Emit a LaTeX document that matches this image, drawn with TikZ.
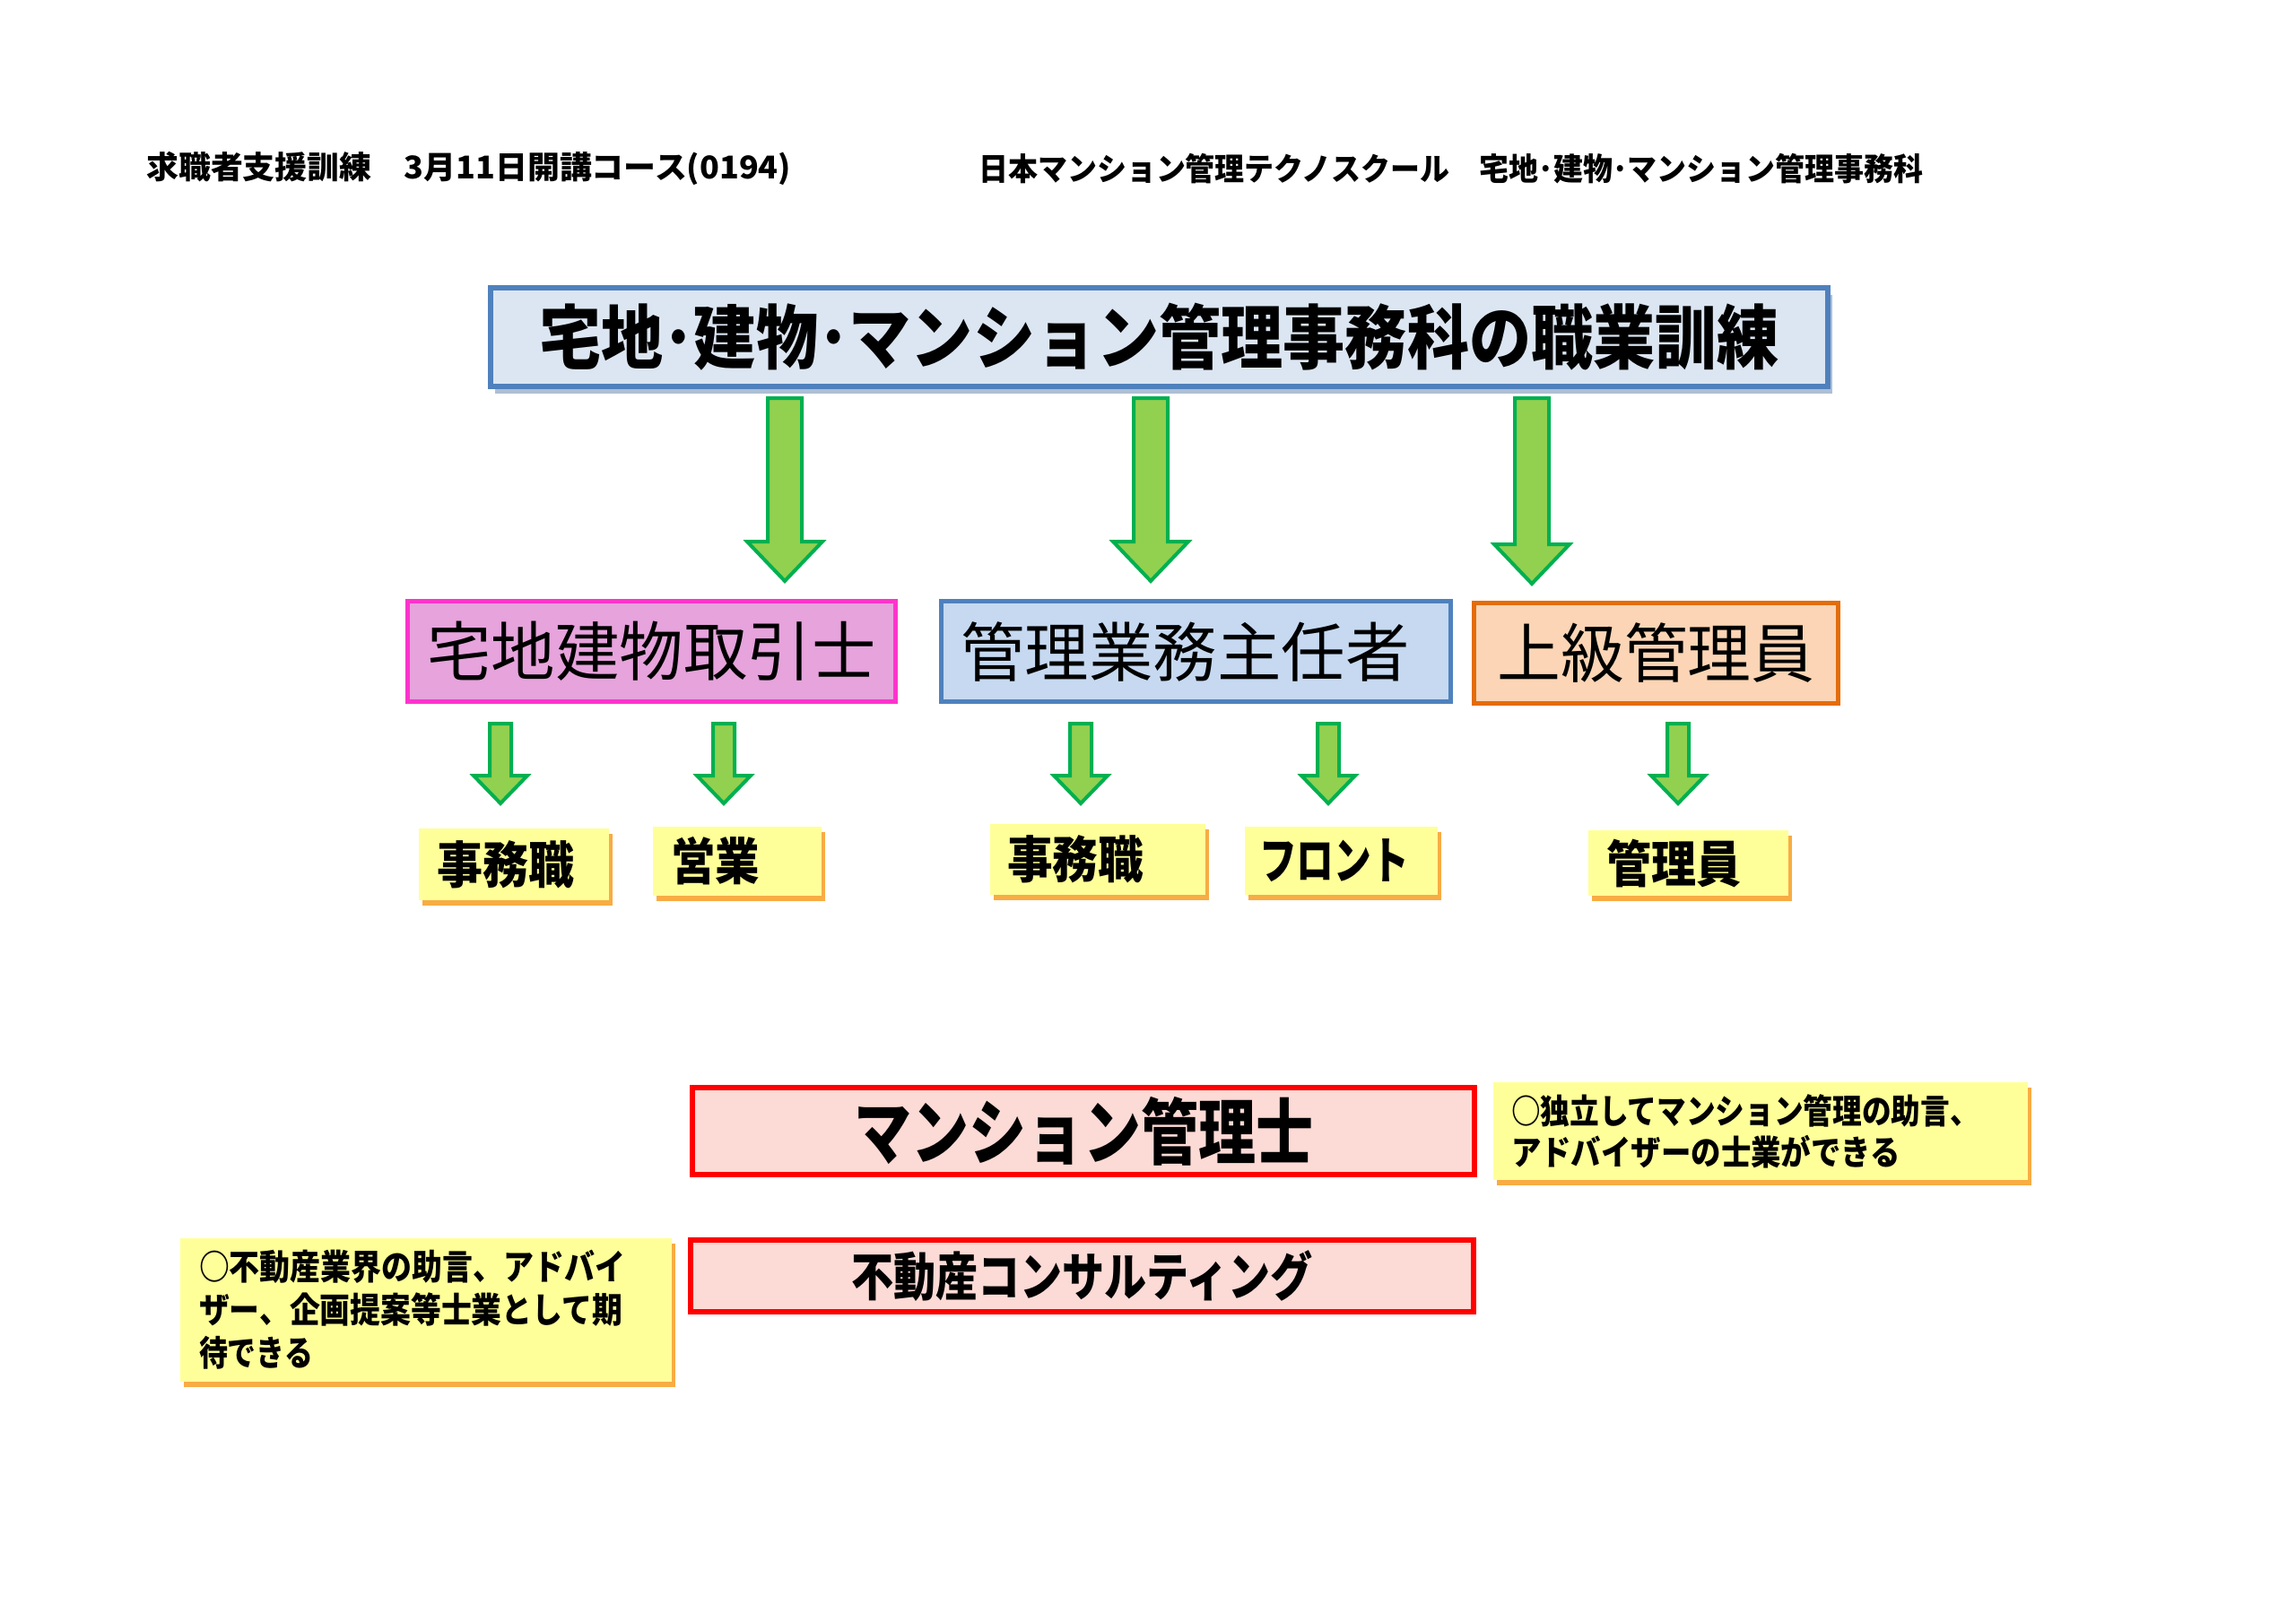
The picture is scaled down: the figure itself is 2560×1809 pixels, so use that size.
\documentclass[tikz,border=0pt]{standalone}
\usepackage{fontspec}
\usepackage{graphicx}
\newfontfamily\jp{Noto Sans CJK JP}
\usetikzlibrary{calc,shadows}
\definecolor{tfill}{HTML}{DCE6F2}
\definecolor{tborder}{HTML}{4F81BD}
\definecolor{pinkfill}{HTML}{E6A3DC}
\definecolor{pinkborder}{HTML}{FF33CC}
\definecolor{bluefill}{HTML}{C6D9F1}
\definecolor{orfill}{HTML}{FBD5B5}
\definecolor{orborder}{HTML}{E46C0A}
\definecolor{yfill}{HTML}{FFFF99}
\definecolor{yshadow}{HTML}{F8A330}
\definecolor{redfill}{HTML}{FCDAD5}
\definecolor{redborder}{HTML}{FF0000}
\definecolor{gfill}{HTML}{92D050}
\definecolor{gborder}{HTML}{00B050}
\newcommand\fw[2]{\resizebox{#1pt}{\height}{#2}}
\newcommand\fsb[1]{\fontsize{#1}{#1}\selectfont\jp\bfseries}
\newcommand\fsr[1]{\fontsize{#1}{#1}\selectfont\jp}
% block arrow: top coord, tip coord, shaft half, head half, head length
\newcommand\barrow[5]{%
  \draw[garrow] let \p1=(#1), \p2=(#2) in
    (\x1-#3pt,\y1) -- (\x1+#3pt,\y1) -- (\x1+#3pt,\y2+#5pt) -- (\x1+#4pt,\y2+#5pt)
    -- (\x1,\y2) -- (\x1-#4pt,\y2+#5pt) -- (\x1-#3pt,\y2+#5pt) -- cycle;}
\begin{document}
\begin{tikzpicture}[x=1pt,y=-1pt,
  txt/.style={inner sep=0pt},
  titlebox/.style={draw=tborder,fill=tfill,line width=6pt,inner sep=0pt,
    drop shadow={shadow xshift=5pt,shadow yshift=-8pt,fill=tborder!70!gray,opacity=0.5}},
  quali/.style={line width=5pt,inner sep=0pt},
  ybox/.style={fill=yfill,inner ysep=0pt,align=left,
    drop shadow={shadow xshift=4pt,shadow yshift=-6pt,fill=yshadow,opacity=0.9}},
  redbox/.style={draw=redborder,fill=redfill,line width=6pt,inner sep=0pt},
  garrow/.style={draw=gborder,fill=gfill,line width=4pt,line join=miter}]
\useasboundingbox[fill=white] (0,0) rectangle (2560,1809);

% headers
\node[txt,anchor=west] (h1) at (163,188) {\fsb{35}\fw{719}{求職者支援訓練　3月11日開講コース(0194)}};
\node[txt,anchor=west] (h2) at (1091,188) {\fsb{35}\fw{1053}{日本マンション管理テクノスクール　宅地･建物･マンション管理事務科}};

% title
\node[titlebox,minimum width=1491pt,minimum height=110pt] (title) at (1292.5,376)
  {\fsb{78}\fw{1383}{宅地･建物･マンション管理事務科の職業訓練}};

% qualifications
\node[quali,draw=pinkborder,fill=pinkfill,minimum width=544pt,minimum height=112pt] (takken) at (726.5,726.5)
  {\fsr{72}\fw{500}{宅地建物取引士}};
\node[quali,draw=tborder,fill=bluefill,minimum width=568pt,minimum height=112pt] (kanri) at (1333.5,726.5)
  {\fsr{72}\hspace*{-24pt}\fw{500}{管理業務主任者}};
\node[quali,draw=orborder,fill=orfill,minimum width=406pt,minimum height=112pt] (joukyu) at (1846.5,728.5)
  {\fsr{72}\fw{354}{上級管理員}};

% jobs
\node[ybox,inner xsep=20pt,text width=172pt,minimum height=80pt] (j1) at (573,964) {\fsb{56}\fw{153}{事務職}};
\node[ybox,inner xsep=20pt,text width=148pt,minimum height=77pt] (j2) at (822,960.5) {\fsb{56}\fw{99}{営業}};
\node[ybox,inner xsep=19pt,text width=202pt,minimum height=79pt] (j3) at (1224,958.5) {\fsb{56}\fw{152}{事務職}};
\node[ybox,inner xsep=16pt,text width=183pt,minimum height=76pt] (j4) at (1495.5,960) {\fsb{56}\fw{167}{フロント}};
\node[ybox,inner xsep=20pt,text width=183pt,minimum height=73pt] (j5) at (1882.5,962.5) {\fsb{56}\fw{150}{管理員}};

% arrows title -> qualifications
\coordinate (a1s) at (875,444);  \coordinate (a1e) at (875,648);
\coordinate (a2s) at (1283,444); \coordinate (a2e) at (1283,648);
\coordinate (a3s) at (1708,444); \coordinate (a3e) at (1708,651);
\barrow{a1s}{a1e}{19}{42}{44}
\barrow{a2s}{a2e}{19}{42}{44}
\barrow{a3s}{a3e}{19}{42}{44}

% arrows qualifications -> jobs
\coordinate (b1s) at (558,807);  \coordinate (b1e) at (558,896);
\coordinate (b2s) at (807,807);  \coordinate (b2e) at (807,896);
\coordinate (b3s) at (1205,807); \coordinate (b3e) at (1205,896);
\coordinate (b4s) at (1481,807); \coordinate (b4e) at (1481,896);
\coordinate (b5s) at (1871,807); \coordinate (b5e) at (1871,896);
\barrow{b1s}{b1e}{12}{30}{31}
\barrow{b2s}{b2e}{12}{30}{31}
\barrow{b3s}{b3e}{12}{30}{31}
\barrow{b4s}{b4e}{12}{30}{31}
\barrow{b5s}{b5e}{12}{30}{31}

% lower section
\node[redbox,minimum width=872pt,minimum height=97pt] (mansion) at (1208,1261.5)
  {\fsb{80}\fw{512}{マンション管理士}};
\node[redbox,minimum width=873pt,minimum height=80pt] (fudosan) at (1206.5,1423)
  {\fsb{58}\fw{515}{不動産コンサルティング}};

\node[ybox,inner xsep=20pt,text width=556pt,minimum height=109pt,
      font={\fontsize{38}{46}\selectfont\jp\bfseries}] (note1) at (1963,1261.5)
  {\fw{522}{○独立してマンション管理の助言、}\\\fw{434}{アドバイザーの士業ができる}};
\node[ybox,inner xsep=21pt,text width=506pt,minimum height=160pt,
      font={\fontsize{39}{48}\selectfont\jp\bfseries}] (note2) at (475,1461)
  {\fw{475}{○不動産業界の助言、アドバイ}\\\fw{472}{ザー、企画提案等士業として期}\\\fw{127}{待できる}};
\end{tikzpicture}
\end{document}
